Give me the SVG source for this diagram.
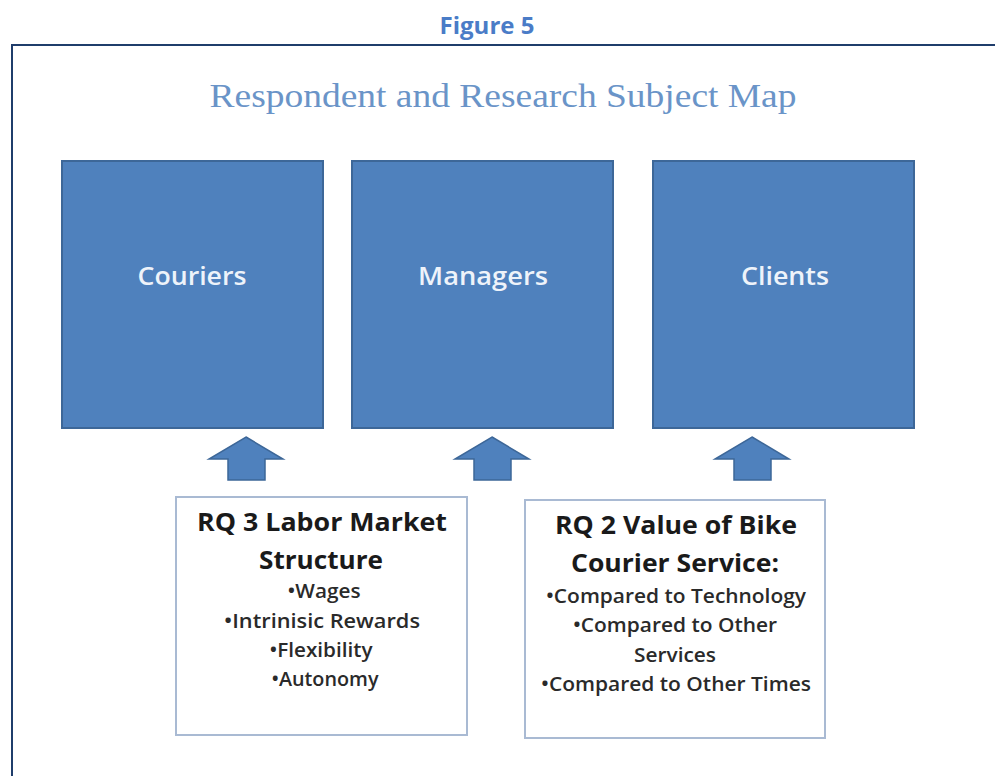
<svg xmlns="http://www.w3.org/2000/svg" width="995" height="776" viewBox="0 0 995 776">
  <style>
    .frame { fill: none; stroke: #1f3d6b; stroke-width: 2; }
    .subject { fill: #4f81bd; stroke: #3d6798; stroke-width: 2; }
    .subject-label { font-family: "Open Sans", "Liberation Sans", sans-serif; font-size: 26px; font-weight: 600; fill: #eef3fa; text-anchor: middle; }
    .arrow { fill: #4f81bd; stroke: #3d6798; stroke-width: 1.5; }
    .rq { fill: #ffffff; stroke: #a9bad3; stroke-width: 2; }
    .rq-head { font-family: "Open Sans", "Liberation Sans", sans-serif; font-size: 25px; font-weight: bold; fill: #1a1a1a; text-anchor: middle; }
    .rq-item { font-family: "Open Sans", "Liberation Sans", sans-serif; font-size: 20px; font-weight: 600; fill: #2a2a2a; text-anchor: middle; }
  </style>

  <rect width="995" height="776" fill="#ffffff"/>

  <!-- caption and frame -->
  <text x="487" y="34" font-family="Open Sans, Liberation Sans, sans-serif" font-size="23" font-weight="bold" fill="#4a7cc7" text-anchor="middle" textLength="95" lengthAdjust="spacingAndGlyphs">Figure 5</text>
  <path class="frame" d="M12 776 V45 H995"/>
  <text x="503" y="107" font-family="Liberation Serif, serif" font-size="34" fill="#6a94c8" text-anchor="middle" textLength="587" lengthAdjust="spacingAndGlyphs">Respondent and Research Subject Map</text>

  <!-- subject boxes -->
  <g id="couriers">
    <rect class="subject" x="62" y="161" width="261" height="267"/>
    <text class="subject-label" x="192" y="285" textLength="109" lengthAdjust="spacingAndGlyphs">Couriers</text>
  </g>
  <g id="managers">
    <rect class="subject" x="352" y="161" width="261" height="267"/>
    <text class="subject-label" x="483" y="285" textLength="130" lengthAdjust="spacingAndGlyphs">Managers</text>
  </g>
  <g id="clients">
    <rect class="subject" x="653" y="161" width="261" height="267"/>
    <text class="subject-label" x="785" y="285" textLength="88" lengthAdjust="spacingAndGlyphs">Clients</text>
  </g>

  <!-- block arrows pointing up to the subjects -->
  <g id="connectors">
    <path class="arrow" d="M246 437 L283 459 H265 V480 H228 V459 H209 Z"/>
    <path class="arrow" d="M492 437 L529 459 H511 V480 H474 V459 H455 Z"/>
    <path class="arrow" d="M752 437 L789 459 H771 V480 H734 V459 H715 Z"/>
  </g>

  <!-- research question boxes -->
  <g id="rq3">
    <rect class="rq" x="176" y="497" width="291" height="238"/>
    <text class="rq-head" x="322" y="531" textLength="250" lengthAdjust="spacingAndGlyphs">RQ 3 Labor Market</text>
    <text class="rq-head" x="321" y="569" textLength="124" lengthAdjust="spacingAndGlyphs">Structure</text>
    <text class="rq-item" x="324" y="598" textLength="73" lengthAdjust="spacingAndGlyphs">•Wages</text>
    <text class="rq-item" x="322" y="628" textLength="196" lengthAdjust="spacingAndGlyphs">•Intrinisic  Rewards</text>
    <text class="rq-item" x="321" y="657" textLength="103" lengthAdjust="spacingAndGlyphs">•Flexibility</text>
    <text class="rq-item" x="325" y="686" textLength="107" lengthAdjust="spacingAndGlyphs">•Autonomy</text>
  </g>
  <g id="rq2">
    <rect class="rq" x="525" y="500" width="300" height="238"/>
    <text class="rq-head" x="676" y="534" textLength="242" lengthAdjust="spacingAndGlyphs">RQ 2 Value of Bike</text>
    <text class="rq-head" x="675" y="572" textLength="208" lengthAdjust="spacingAndGlyphs">Courier Service:</text>
    <text class="rq-item" x="676" y="603" textLength="260" lengthAdjust="spacingAndGlyphs">•Compared to Technology</text>
    <text class="rq-item" x="675" y="632" textLength="204" lengthAdjust="spacingAndGlyphs">•Compared to Other</text>
    <text class="rq-item" x="675" y="662" textLength="82" lengthAdjust="spacingAndGlyphs">Services</text>
    <text class="rq-item" x="676" y="691" textLength="270" lengthAdjust="spacingAndGlyphs">•Compared to Other Times</text>
  </g>
</svg>
